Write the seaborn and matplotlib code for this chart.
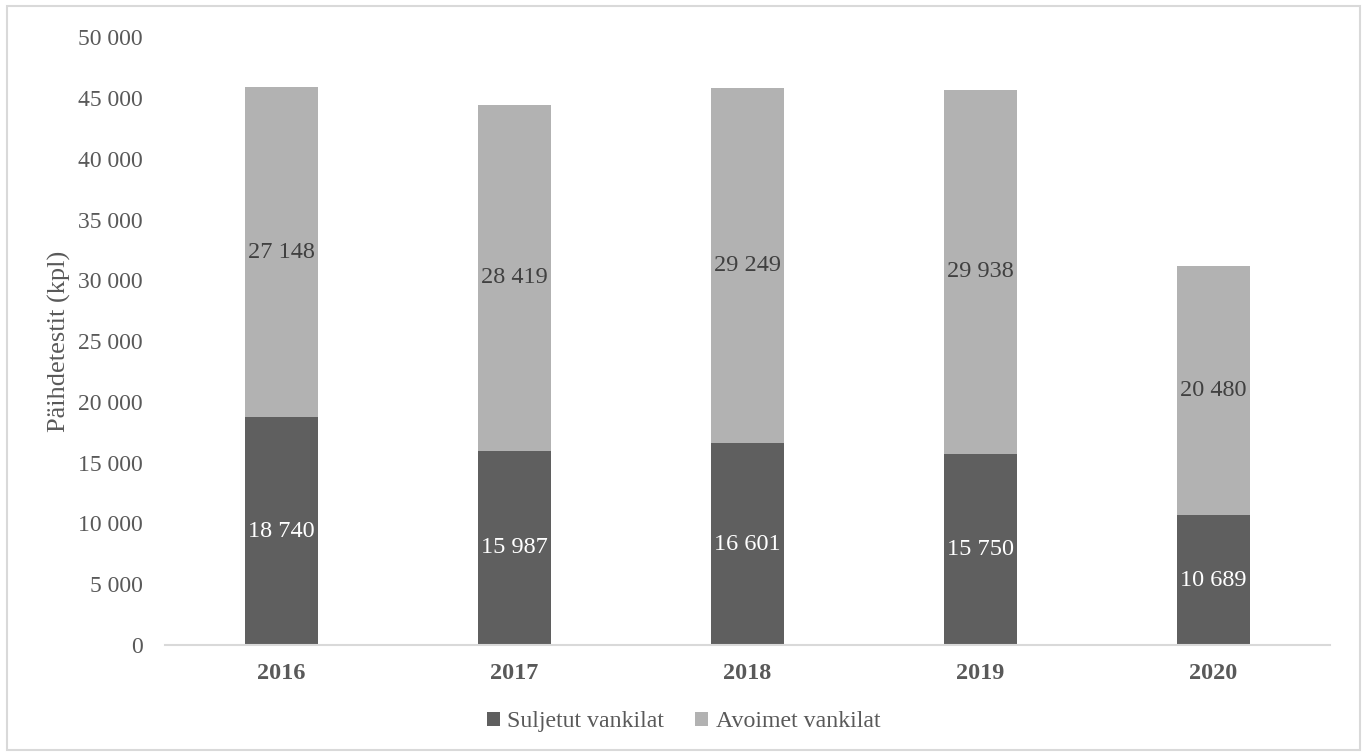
import numpy as np
import pandas as pd
import matplotlib
matplotlib.use("Agg")
import matplotlib.pyplot as plt
import seaborn as sns
from matplotlib.ticker import FuncFormatter
from matplotlib.patches import Rectangle

# --- data ---
years = ["2016", "2017", "2018", "2019", "2020"]
suljetut = [18740, 15987, 16601, 15750, 10689]
avoimet = [27148, 28419, 29249, 29938, 20480]

DARK = "#5f5f5f"
LIGHT = "#b2b2b2"
TEXT = "#595959"

sns.set_theme(style="white")
plt.rcParams["font.family"] = ["Liberation Serif", "DejaVu Serif"]

df = pd.DataFrame({"vuosi": years, "Suljetut vankilat": suljetut, "Avoimet vankilat": avoimet})
df["yht"] = df["Suljetut vankilat"] + df["Avoimet vankilat"]

def fmt(v):
    return f"{v:,.0f}".replace(",", " ")

fig = plt.figure(figsize=(13.67, 7.56), dpi=100)
ax = fig.add_axes([0.1207, 0.1468, 0.852, 0.804])

# pino: ensin kokonaiskorkeus vaaleana, sitten suljetut päälle
sns.barplot(data=df, x="vuosi", y="yht", color=LIGHT, width=0.313, ax=ax,
            saturation=1, linewidth=0, label="Avoimet vankilat")
sns.barplot(data=df, x="vuosi", y="Suljetut vankilat", color=DARK, width=0.313, ax=ax,
            saturation=1, linewidth=0, label="Suljetut vankilat")

for i in range(len(years)):
    s = df["Suljetut vankilat"][i]
    a = df["Avoimet vankilat"][i]
    ax.text(i, s / 2, fmt(s), ha="center", va="center", color="white", fontsize=17.5)
    ax.text(i, s + a / 2, fmt(a), ha="center", va="center", color="#404040", fontsize=17.5)

ax.set_ylim(0, 50000)
ax.set_xlim(-0.5, 4.5)
ax.set_yticks(np.arange(0, 50001, 5000))
ax.yaxis.set_major_formatter(FuncFormatter(lambda v, p: fmt(v)))
ax.tick_params(axis="y", length=0, pad=16, labelsize=17, labelcolor=TEXT)
ax.tick_params(axis="x", length=0, pad=13, labelsize=17.5, labelcolor=TEXT)
for lab in ax.get_xticklabels():
    lab.set_fontweight("bold")
ax.set_xlabel("")
ax.set_ylabel("Päihdetestit (kpl)", fontsize=19, color=TEXT, labelpad=5)

for side in ["top", "right", "left"]:
    ax.spines[side].set_visible(False)
ax.spines["bottom"].set_color("#d9d9d9")
ax.spines["bottom"].set_linewidth(1.5)

handles, labels = ax.get_legend_handles_labels()
order = [labels.index("Suljetut vankilat"), labels.index("Avoimet vankilat")]
leg = fig.legend([handles[i] for i in order], [labels[i] for i in order],
                 loc="center", bbox_to_anchor=(0.5, 0.045), ncol=2, frameon=False,
                 fontsize=17.2, handlelength=0.55, handleheight=0.55, handletextpad=0.3,
                 columnspacing=1.3)
for t in leg.get_texts():
    t.set_color(TEXT)
if ax.get_legend():
    ax.get_legend().remove()

fig.patches.append(Rectangle((0.005, 0.008), 0.99, 0.984, transform=fig.transFigure,
                             fill=False, edgecolor="#d9d9d9", linewidth=1.5))

fig.savefig("out.png", dpi=100)
